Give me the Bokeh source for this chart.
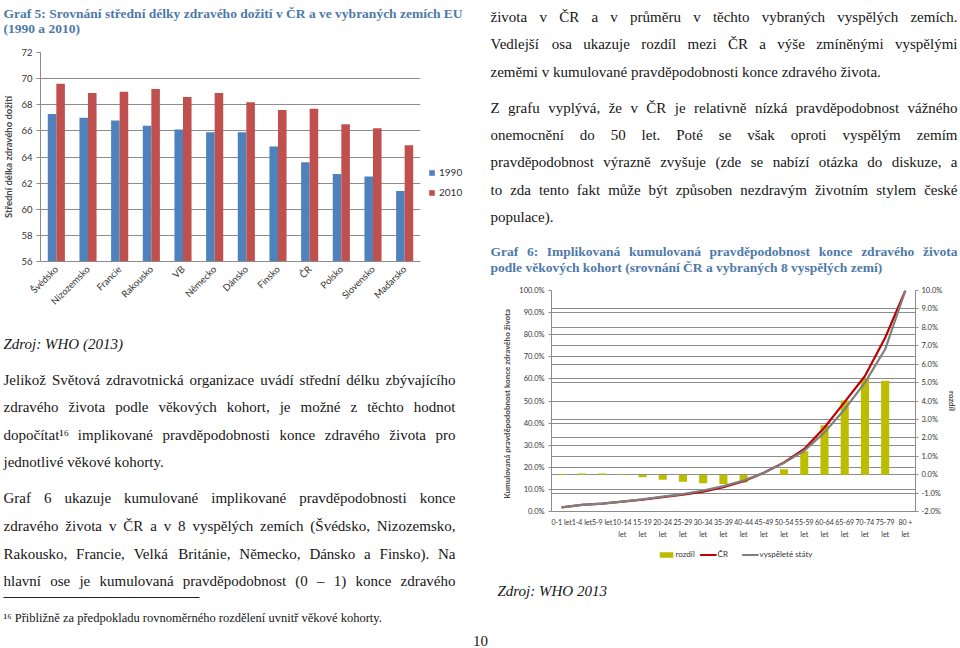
import unicodedata
from math import pi
from bokeh.plotting import figure
from bokeh.models import (Range1d, FixedTicker, LinearAxis, CategoricalAxis, Grid,
                          NumeralTickFormatter, ColumnDataSource, Legend, CustomJSTickFormatter)
from bokeh.transform import dodge
from bokeh.core.properties import value
from bokeh.embed import file_html
from bokeh.resources import INLINE

# ---------------- Graf 5 data ----------------
countries = ["Švédsko", "Nizozemsko", "Francie", "Rakousko", "VB", "Německo",
             "Dánsko", "Finsko", "ČR", "Polsko", "Slovensko", "Maďarsko"]
hle_1990 = [67.3, 67.0, 66.8, 66.4, 66.1, 65.9, 65.9, 64.8, 63.6, 62.7, 62.5, 61.4]
hle_2010 = [69.6, 68.9, 69.0, 69.2, 68.6, 68.9, 68.2, 67.6, 67.7, 66.5, 66.2, 64.9]
y5_ticks = [56, 58, 60, 62, 64, 66, 68, 70, 72]

# ---------------- Graf 6 data ----------------
age_groups = ["0-1 let", "1-4 let", "5-9 let", "10-14 let", "15-19 let", "20-24 let",
              "25-29 let", "30-34 let", "35-39 let", "40-44 let", "45-49 let", "50-54 let",
              "55-59 let", "60-64 let", "65-69 let", "70-74 let", "75-79 let", "80 + let"]
cum_cr = [0.019, 0.030, 0.036, 0.045, 0.054, 0.065, 0.076, 0.090, 0.110, 0.137, 0.175,
          0.222, 0.283, 0.380, 0.496, 0.613, 0.786, 1.000]
cum_dev = [0.019, 0.030, 0.036, 0.045, 0.055, 0.067, 0.079, 0.095, 0.115, 0.140, 0.175,
           0.220, 0.275, 0.358, 0.463, 0.583, 0.734, 1.000]
rozdil = [0.0003, 0.0007, 0.0007, 0.0002, -0.0014, -0.0027, -0.0039, -0.0047, -0.0050,
          -0.0042, -0.0002, 0.0029, 0.0127, 0.0268, 0.0403, 0.0521, 0.0510, 0.0]
left6_ticks = [0.0, 0.1, 0.2, 0.3, 0.4, 0.5, 0.6, 0.7, 0.8, 0.9, 1.0]
right6_ticks = [-0.02, -0.01, 0.0, 0.01, 0.02, 0.03, 0.04, 0.05, 0.06, 0.07, 0.08, 0.09, 0.10]

# ---------------- page texts ----------------
title5 = ["Graf 5: Srovnání střední délky zdravého dožití v ČR a ve vybraných zemích EU",
          "(1990 a 2010)"]
left_paras = [
    ("Jelikož Světová zdravotnická organizace uvádí střední délku zbývajícího", True),
    ("zdravého života podle věkových kohort, je možné z těchto hodnot", True),
    ("dopočítat¹⁶ implikované pravděpodobnosti konce zdravého života pro", True),
    ("jednotlivé věkové kohorty.", False),
    ("Graf 6 ukazuje kumulované implikované pravděpodobnosti konce", True),
    ("zdravého života v ČR a v 8 vyspělých zemích (Švédsko, Nizozemsko,", True),
    ("Rakousko, Francie, Velká Británie, Německo, Dánsko a Finsko). Na", True),
    ("hlavní ose je kumulovaná pravděpodobnost (0 – 1) konce zdravého", True),
]
right_paras = [
    ("života v ČR a v průměru v těchto vybraných vyspělých zemích.", True),
    ("Vedlejší osa ukazuje rozdíl mezi ČR a výše zmíněnými vyspělými", True),
    ("zeměmi v kumulované pravděpodobnosti konce zdravého života.", False),
    ("Z grafu vyplývá, že v ČR je relativně nízká pravděpodobnost vážného", True),
    ("onemocnění do 50 let. Poté se však oproti vyspělým zemím", True),
    ("pravděpodobnost výrazně zvyšuje (zde se nabízí otázka do diskuze, a", True),
    ("to zda tento fakt může být způsoben nezdravým životním stylem české", True),
    ("populace).", False),
]
title6 = [("Graf 6: Implikovaná kumulovaná pravděpodobnost konce zdravého života", True),
          ("podle věkových kohort (srovnání ČR a vybraných 8 vyspělých zemí)", False)]
source5 = "Zdroj: WHO (2013)"
source6 = "Zdroj: WHO 2013"
footnote = "¹⁶ Přibližně za předpokladu rovnoměrného rozdělení uvnitř věkové kohorty."
page_no = "10"

# ---------------- styling ----------------
SERIF = "Liberation Serif"
SANS = "Lato"
BODY = "#161616"
TITLE_BLUE = "#4E79AA"
GRID = "#8c8c8c"
LBL = "#333333"

TIMES = {' ': 250, '!': 333, '(': 333, ')': 333, ',': 250, '-': 333, '.': 250, ':': 278,
         ';': 278, '–': 500, '/': 278, '¹': 300, '⁶': 300,
         'A': 722, 'B': 667, 'C': 667, 'D': 722, 'E': 611, 'F': 556, 'G': 722, 'H': 722,
         'I': 333, 'J': 389, 'K': 722, 'L': 611, 'M': 889, 'N': 722, 'O': 722, 'P': 556,
         'Q': 722, 'R': 667, 'S': 556, 'T': 611, 'U': 722, 'V': 722, 'W': 944, 'X': 722,
         'Y': 722, 'Z': 611,
         'a': 444, 'b': 500, 'c': 444, 'd': 500, 'e': 444, 'f': 333, 'g': 500, 'h': 500,
         'i': 278, 'j': 278, 'k': 500, 'l': 278, 'm': 778, 'n': 500, 'o': 500, 'p': 500,
         'q': 500, 'r': 333, 's': 389, 't': 278, 'u': 500, 'v': 500, 'w': 722, 'x': 500,
         'y': 500, 'z': 444}
for d in "0123456789":
    TIMES[d] = 500
TIMES_B = dict(TIMES)
TIMES_B.update({':': 333, 'G': 778, 'I': 389, 'R': 722, 'E': 667,
                'a': 500, 'b': 556, 'd': 556, 'h': 556, 'j': 333, 'k': 556, 'm': 833,
                'n': 556, 'p': 556, 'q': 556, 'r': 444, 't': 333, 'u': 556})


def tw(s, tbl):
    w = 0
    for ch in s:
        base = unicodedata.normalize("NFD", ch)[0]
        w += tbl.get(ch, tbl.get(base, 500))
    return w / 1000.0


def layout_lines(lines, x0, x1, ys, size, tbl, xoff=0.23):
    items = []
    for (txt, just), yc in zip(lines, ys):
        y = yc + xoff * size
        words = txt.split(" ")
        if just and len(words) > 1:
            ws = [tw(w, tbl) * size for w in words]
            gap = (x1 - x0 - sum(ws)) / (len(words) - 1)
            x = x0
            for i, (w, wd) in enumerate(zip(words, ws)):
                if i == len(words) - 1:
                    items.append((x1, y, w, "right"))
                else:
                    items.append((x, y, w, "left"))
                x += wd + gap
        else:
            items.append((x0, y, txt, "left"))
    return items


def put(f, items, size, style="normal", color=BODY, font=SERIF):
    for align in ("left", "right", "center"):
        grp = [it for it in items if it[3] == align]
        if not grp:
            continue
        src = ColumnDataSource(dict(x=[g[0] for g in grp], y=[g[1] for g in grp],
                                    t=[g[2] for g in grp]))
        f.text(x="x", y="y", text="t", source=src, text_align=align,
               text_baseline="alphabetic", text_font=value(font),
               text_font_size=f"{size}px", text_font_style=style, text_color=color)


def place(x, y):
    return {"position": "absolute", "left": f"{x}px", "top": f"{y}px"}


def bare_fig(w, h, x, y):
    f = figure(width=w, height=h, x_range=Range1d(0, 1), y_range=Range1d(0, 1),
               x_axis_type=None, y_axis_type=None, output_backend="svg",
               toolbar_location=None, min_border=0, styles=place(x, y))
    f.outline_line_color = None
    f.background_fill_alpha = 0
    f.border_fill_alpha = 0
    return f


# ---------------- page (text layer) ----------------
page = figure(width=960, height=648, x_range=Range1d(0, 960), y_range=Range1d(648, 0),
              x_axis_type=None, y_axis_type=None, output_backend="svg",
              toolbar_location=None, min_border=0, styles=place(0, 0))
page.outline_line_color = None

put(page, layout_lines([(t, False) for t in title5], 3, 455, [9.5, 24.5], 13.5, TIMES_B),
    13.5, "bold", TITLE_BLUE)
put(page, [(3, 340 + 0.23 * 15, source5, "left")], 15, "italic")
put(page, layout_lines(left_paras, 3, 455,
                       [376, 403.5, 431, 458.5, 494.5, 522.5, 550, 577.5], 15, TIMES), 15)
page.line(x=[3, 199], y=[597, 597], line_color="#222222", line_width=1)
put(page, [(3, 615 + 0.23 * 12.5, footnote, "left")], 12.5)
put(page, layout_lines(right_paras, 490, 957,
                       [13.5, 40.5, 68, 104, 131.5, 158.5, 186, 213], 15, TIMES), 15)
put(page, layout_lines(title6, 490, 957, [248, 263.5], 13.5, TIMES_B), 13.5, "bold",
    TITLE_BLUE)
put(page, [(497, 587 + 0.23 * 15, source6, "left")], 15, "italic")
put(page, [(480, 637 + 0.23 * 15, page_no, "center")], 15)

# ---------------- Graf 5 ----------------
src5 = ColumnDataSource(dict(country=countries, y1990=hle_1990, y2010=hle_2010))
p1 = figure(width=480, height=278, x_range=countries, y_range=Range1d(56, 72),
            output_backend="svg", toolbar_location=None, styles=place(0, 40),
            min_border_left=37, min_border_right=60, min_border_top=12, min_border_bottom=57)
r90 = p1.vbar(x=dodge("country", -0.135, range=p1.x_range), top="y1990", bottom=56,
              width=0.27, source=src5, fill_color="#4F81BD", line_color=None)
r10 = p1.vbar(x=dodge("country", 0.135, range=p1.x_range), top="y2010", bottom=56,
              width=0.27, source=src5, fill_color="#C0504D", line_color=None)
p1.outline_line_color = None
p1.background_fill_alpha = 0
p1.border_fill_alpha = 0
p1.xgrid.visible = False
p1.ygrid.grid_line_color = GRID
p1.yaxis.ticker = FixedTicker(ticks=y5_ticks)
p1.yaxis.axis_label = "Střední délka zdravého dožití"
p1.yaxis.axis_label_text_font = SANS
p1.yaxis.axis_label_text_font_style = "bold"
p1.yaxis.axis_label_text_font_size = "9.5px"
p1.yaxis.axis_label_standoff = 4
for ax in (p1.xaxis[0], p1.yaxis[0]):
    ax.axis_line_color = GRID
    ax.major_tick_line_color = GRID
    ax.minor_tick_line_color = None
    ax.major_label_text_font = SANS
    ax.major_label_text_font_size = "9.5px"
    ax.major_label_text_color = LBL
    ax.major_label_standoff = 4
p1.yaxis.major_tick_out = 4
p1.yaxis.major_tick_in = 0
p1.xaxis.major_tick_out = 0
p1.xaxis.major_tick_in = 0
p1.xaxis.major_label_standoff = 6
p1.xaxis.major_label_orientation = pi / 4

# legend of Graf 5 (beside the plot area); sample glyphs lie outside the view
lg1 = bare_fig(50, 40, 428, 166)
l90 = lg1.vbar(x=[5], top=[5], bottom=[4], width=0.1, fill_color="#4F81BD", line_color=None)
l10 = lg1.vbar(x=[5], top=[5], bottom=[4], width=0.1, fill_color="#C0504D", line_color=None)
lg1.add_layout(Legend(items=[("1990", [l90]), ("2010", [l10])], location="top_left",
                      orientation="vertical", glyph_width=7, glyph_height=7, label_height=12,
                      spacing=8, padding=4, margin=0, label_standoff=4,
                      label_text_font=SANS, label_text_font_size="10px",
                      label_text_color=LBL, border_line_color=None,
                      background_fill_alpha=0))

# ---------------- Graf 6 ----------------
src6 = ColumnDataSource(dict(age=age_groups, cr=cum_cr, dev=cum_dev, diff=rozdil))
p2 = figure(width=480, height=290, x_range=age_groups, y_range=Range1d(0, 1),
            output_backend="svg", toolbar_location=None, styles=place(480, 280),
            min_border_left=71, min_border_right=39, min_border_top=10, min_border_bottom=59)
p2.extra_y_ranges = {"diff": Range1d(-0.02, 0.10)}
p2.outline_line_color = None
p2.background_fill_alpha = 0
p2.border_fill_alpha = 0
p2.xgrid.visible = False
p2.ygrid.grid_line_color = GRID
p2.ygrid.ticker = FixedTicker(ticks=left6_ticks)
p2.add_layout(Grid(dimension=1, ticker=FixedTicker(ticks=right6_ticks), y_range_name="diff",
                   grid_line_color=GRID))
rb = p2.vbar(x="age", top="diff", bottom=0, width=0.4, source=src6, y_range_name="diff",
             fill_color="#BDBD00", line_color=None)
rc = p2.line(x="age", y="cr", source=src6, line_color="#C00000", line_width=2.2)
rd = p2.line(x="age", y="dev", source=src6, line_color="#7F7F7F", line_width=2.2)

p2.yaxis.ticker = FixedTicker(ticks=left6_ticks)
p2.yaxis.formatter = NumeralTickFormatter(format="0.0%")
p2.yaxis.axis_label = "Kumulovaná pravděpodobnost  konce  zdravého  života"
ax_r = LinearAxis(y_range_name="diff", ticker=FixedTicker(ticks=right6_ticks),
                  formatter=NumeralTickFormatter(format="0.0%"), axis_label="rozdíl")
p2.add_layout(ax_r, "right")
# category labels in two rows: the age span, then "let" (first three fit on one line)
p2.xaxis.formatter = CustomJSTickFormatter(
    code="return index < 3 ? tick : tick.replace(' let', '');")
ax_let = CategoricalAxis(formatter=CustomJSTickFormatter(
    code="return index < 3 ? '' : 'let';"))
p2.add_layout(ax_let, "below")
for ax in (p2.xaxis[0], p2.yaxis[0], ax_r, ax_let):
    ax.axis_line_color = GRID
    ax.major_tick_line_color = GRID
    ax.minor_tick_line_color = None
    ax.major_tick_out = 3
    ax.major_tick_in = 0
    ax.major_label_text_font = SANS
    ax.major_label_text_font_size = "7px"
    ax.major_label_text_color = LBL
    ax.major_label_standoff = 4
    ax.axis_label_text_font = SANS
    ax.axis_label_text_font_style = "bold"
    ax.axis_label_text_font_size = "8px"
    ax.axis_label_standoff = 4
p2.yaxis[0].major_label_text_font_size = "7.5px"
p2.xaxis[0].major_tick_out = 0
p2.xaxis[0].major_label_standoff = 6
ax_let.axis_line_color = None
ax_let.major_tick_out = 0
ax_let.major_label_standoff = 1
ax_r.major_label_text_font_size = "7.5px"
ax_r.major_label_standoff = 3
ax_r.axis_label_standoff = 2

# legend of Graf 6 (under the category axis); sample glyphs lie outside the view
lg2 = bare_fig(450, 18, 510, 545)
lb = lg2.vbar(x=[5], top=[5], bottom=[4], width=0.1, fill_color="#BDBD00", line_color=None)
lc = lg2.line(x=[5, 6], y=[5, 5], line_color="#C00000", line_width=2.2)
ld = lg2.line(x=[5, 6], y=[5, 5], line_color="#7F7F7F", line_width=2.2)
lg2.add_layout(Legend(items=[("rozdíl", [lb]), ("ČR", [lc]), ("vyspěleté státy", [ld])],
                      location="center", orientation="horizontal", glyph_width=17,
                      glyph_height=7, label_height=10, spacing=4, padding=0, margin=0,
                      label_standoff=1, label_text_font=SANS, label_text_font_size="8px",
                      label_text_color=LBL, border_line_color=None,
                      background_fill_alpha=0))

open("out.html", "w").write(file_html([page, p1, lg1, p2, lg2], INLINE))
